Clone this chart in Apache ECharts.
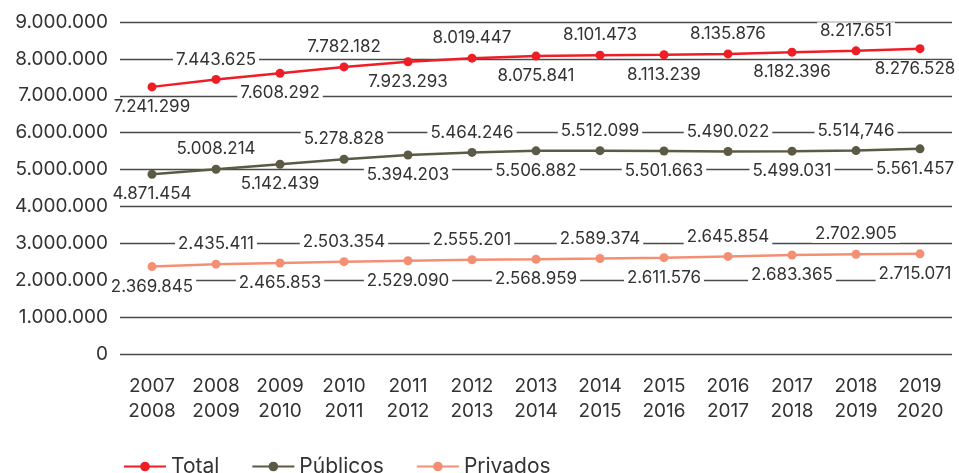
<!DOCTYPE html>
<html>
<head>
<meta charset="utf-8">
<script src="https://cdn.jsdelivr.net/npm/echarts@6/dist/echarts.min.js"></script>
<style>
  html, body { margin: 0; padding: 0; background: #fff; }
  #chart { width: 959px; height: 473px; }
</style>
</head>
<body>
<div id="chart"></div>
<script>
// School years (start / end)
const categories = [
  '2007\n2008', '2008\n2009', '2009\n2010', '2010\n2011', '2011\n2012',
  '2012\n2013', '2013\n2014', '2014\n2015', '2015\n2016', '2016\n2017',
  '2017\n2018', '2018\n2019', '2019\n2020'
];

const total = [7241299, 7443625, 7608292, 7782182, 7923293, 8019447, 8075841,
  8101473, 8113239, 8135876, 8182396, 8217651, 8276528];
const publicos = [4871454, 5008214, 5142439, 5278828, 5394203, 5464246, 5506882,
  5512099, 5501663, 5490022, 5499031, 5514746, 5561457];
const privados = [2369845, 2435411, 2465853, 2503354, 2529090, 2555201, 2568959,
  2589374, 2611576, 2645854, 2683365, 2702905, 2715071];

// Label text as published (one entry uses a comma)
const publicosLabelText = { 11: '5.514,746' };

const fmt = v => String(v).replace(/\B(?=(\d{3})+(?!\d))/g, '.');

const FONT = 'Inter';
const TEXT = '#333333';

function makeSeries(name, values, color, overrides) {
  const last = values.length - 1;
  return {
    name: name,
    type: 'line',
    data: values.map((v, i) => ({
      value: v,
      label: {
        position: i % 2 ? 'top' : 'bottom',
        // keep the final label inside the canvas
        offset: i === last ? [-5, 0] : [0, 0]
      }
    })),
    symbol: 'circle',
    symbolSize: 9,
    lineStyle: { color: color, width: 2.5 },
    itemStyle: { color: color },
    label: {
      show: true,
      distance: 7,
      color: TEXT,
      fontFamily: FONT,
      fontSize: 17,
      backgroundColor: '#ffffff',
      padding: [0, 3],
      formatter: p => (overrides && overrides[p.dataIndex]) || fmt(p.value)
    },
    emphasis: { disabled: true },
    animation: false
  };
}

const chart = echarts.init(document.getElementById('chart'), null, { renderer: 'canvas' });
chart.setOption({
  backgroundColor: '#ffffff',
  animation: false,
  grid: { left: 120, right: 7, top: 22, bottom: 119 },
  xAxis: {
    type: 'category',
    data: categories,
    boundaryGap: true,
    axisLine: { show: false },
    axisTick: { show: false },
    axisLabel: {
      color: TEXT, fontFamily: FONT, fontSize: 19, lineHeight: 25,
      margin: 20, interval: 0
    }
  },
  yAxis: {
    type: 'value',
    min: 0, max: 9000000, interval: 1000000,
    axisLine: { show: false },
    axisTick: { show: false },
    axisLabel: {
      color: TEXT, fontFamily: FONT, fontSize: 19, margin: 12,
      formatter: v => fmt(v)
    },
    splitLine: { lineStyle: { color: '#4a4a4a', width: 1.3 } }
  },
  legend: {
    top: 451,
    left: 118,
    itemWidth: 42,
    itemHeight: 12,
    itemGap: 32,
    textStyle: { color: TEXT, fontFamily: FONT, fontSize: 21 },
    data: ['Total', 'Públicos', 'Privados']
  },
  series: [
    makeSeries('Total', total, '#ee1d26'),
    makeSeries('Públicos', publicos, '#5b5a44', publicosLabelText),
    makeSeries('Privados', privados, '#f48f74')
  ]
});
</script>
</body>
</html>
